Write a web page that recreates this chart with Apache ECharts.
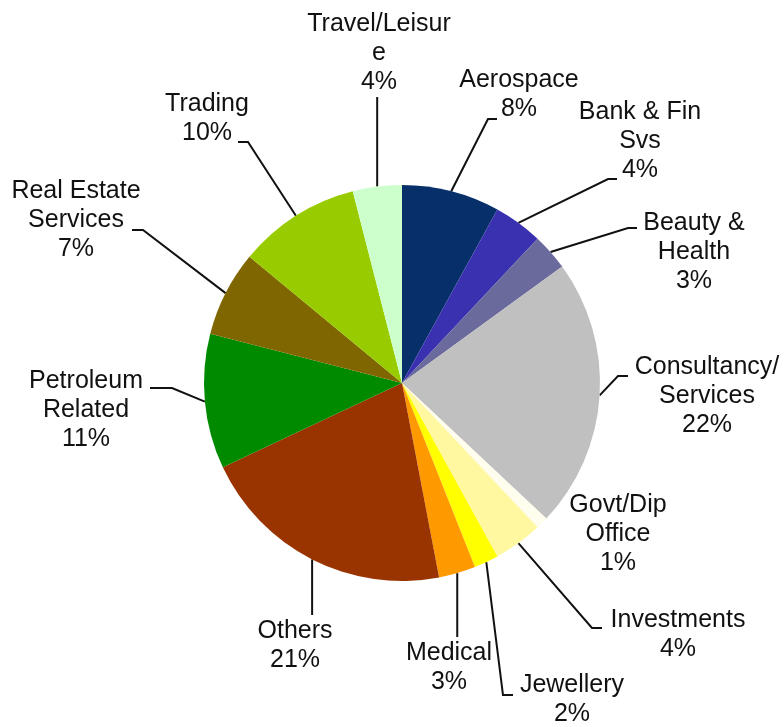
<!DOCTYPE html>
<html>
<head>
<meta charset="utf-8">
<script src="https://cdn.jsdelivr.net/npm/echarts@6/dist/echarts.min.js"></script>
<style>
  html, body { margin: 0; padding: 0; background: #ffffff; }
  #chart { width: 784px; height: 727px; }
</style>
</head>
<body>
<div id="chart"></div>
<script>
// Sector names (line breaks as shown in the labels) and their shares in percent
const categories = [
  'Aerospace', 'Bank & Fin\nSvs', 'Beauty &\nHealth', 'Consultancy/\nServices',
  'Govt/Dip\nOffice', 'Investments', 'Jewellery', 'Medical', 'Others',
  'Petroleum\nRelated', 'Real Estate\nServices', 'Trading', 'Travel/Leisur\ne'
];
const shares = [8, 4, 3, 22, 1, 4, 2, 3, 21, 11, 7, 10, 4];
const sliceColors = [
  '#07306a', '#3a31b0', '#6a6a9c', '#c0c0c0', '#fffdee', '#fff8a0', '#ffff00',
  '#ff9900', '#993300', '#008a00', '#806600', '#99cc00', '#ccffcc'
];

// Where each label block sits and where its leader line meets it
const labelSpots = [
  { x: 519, y: 95,  end: [497, 119], bend: -9 },
  { x: 640, y: 141, end: [617, 179], bend: -9 },
  { x: 694, y: 252, end: [637, 228], bend: -9 },
  { x: 707, y: 396, end: [628, 376], bend: -10 },
  { x: 618, y: 534 },
  { x: 678, y: 635, end: [602, 628], bend: -10 },
  { x: 572, y: 700, end: [513, 695], bend: -10 },
  { x: 449, y: 668, vertical: 637 },
  { x: 295, y: 646, vertical: 615 },
  { x: 86,  y: 410, end: [150, 388], bend: 22 },
  { x: 76,  y: 220, end: [132, 230], bend: 11 },
  { x: 207, y: 119, end: [238, 142], bend: 10 },
  { x: 379, y: 53,  vertical: 97 }
];

const chart = echarts.init(document.getElementById('chart'), null, { renderer: 'canvas' });

const pieData = categories.map((name, i) => ({
  name: name,
  value: shares[i],
  itemStyle: { color: sliceColors[i] },
  labelLine: { show: !!(labelSpots[i].end || labelSpots[i].vertical) }
}));

chart.setOption({
  animation: false,
  backgroundColor: '#ffffff',
  series: [{
    type: 'pie',
    center: [402, 383],
    radius: 198,
    startAngle: 90,
    clockwise: true,
    avoidLabelOverlap: false,
    silent: true,
    data: pieData,
    label: {
      show: true,
      position: 'outside',
      formatter: '{b}\n{c}%',
      fontFamily: '"Liberation Sans", Arial, sans-serif',
      fontSize: 25,
      lineHeight: 29,
      color: '#111111',
      align: 'center'
    },
    labelLine: {
      show: true,
      length: 20,
      length2: 10,
      smooth: false,
      lineStyle: { color: '#111111', width: 2 }
    },
    labelLayout: function (p) {
      const s = labelSpots[p.dataIndex];
      const out = { x: s.x, y: s.y, align: 'center', verticalAlign: 'middle' };
      const pts = p.labelLinePoints;
      if (pts && pts.length) {
        const start = pts[0];
        if (s.vertical) {
          out.labelLinePoints = [start, [start[0], s.vertical]];
        } else if (s.end) {
          out.labelLinePoints = [start, [s.end[0] + s.bend, s.end[1]], s.end];
        }
      }
      return out;
    }
  }]
});
</script>
</body>
</html>
